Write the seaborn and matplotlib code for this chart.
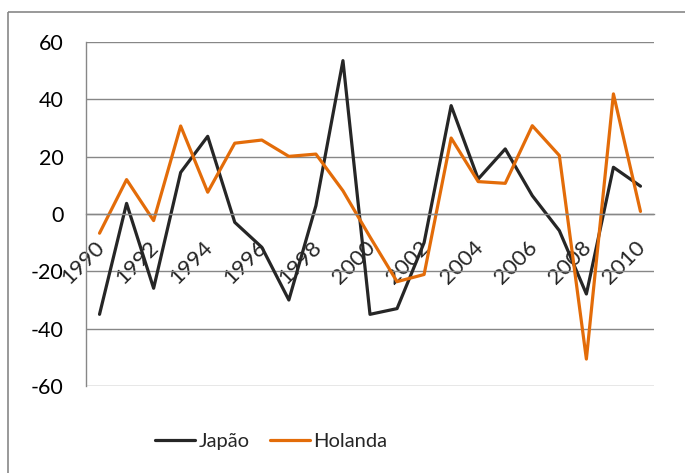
import matplotlib
matplotlib.use("Agg")
import matplotlib.pyplot as plt
import matplotlib.transforms as mtransforms
from matplotlib.patches import Rectangle
import numpy as np
import pandas as pd
import seaborn as sns

# Annual growth rates (%) by year
years = list(range(1990, 2011))
japao = [-35, 3.7, -25.9, 14.5, 27.1, -2.9, -11.6, -30, 2.9, 53.5,
         -35, -33, -10, 37.8, 12.2, 22.7, 6.4, -5.8, -27.9, 16.3, 9.7]
holanda = [-6.7, 12.0, -2.3, 30.7, 7.6, 24.7, 25.8, 20.1, 20.9, 8.1,
           -8, -23.6, -21.1, 26.5, 11.3, 10.7, 30.8, 20.4, -50.6, 41.9, 0.9]
series_names = ["Japão", "Holanda"]
series_colors = ["#262626", "#E36C09"]
y_ticks = [-60, -40, -20, 0, 20, 40, 60]

sns.set_style("white")
plt.rcParams["font.family"] = ["Lato", "DejaVu Sans"]
plt.rcParams["axes.unicode_minus"] = False

W, H = 685, 473
fig = plt.figure(figsize=(W / 100, H / 100), dpi=100)
ax = fig.add_axes([86 / W, 1 - 386 / H, (654 - 86) / W, (386 - 42) / H])

pos = np.arange(len(years))
df = pd.DataFrame({
    "pos": np.concatenate([pos, pos]),
    "valor": japao + holanda,
    "serie": [series_names[0]] * len(years) + [series_names[1]] * len(years),
})

sns.lineplot(data=df, x="pos", y="valor", hue="serie", hue_order=series_names,
             palette=series_colors, linewidth=2.3, sort=False, ax=ax,
             legend=False)

grid_c = "#878787"
fs = 15.5

ax.set_xlim(-0.5, len(years) - 0.5)
ax.set_ylim(-60, 60)
ax.set_yticks(y_ticks)
ax.set_yticklabels([str(v) for v in y_ticks], fontsize=fs, color="black")
ax.yaxis.grid(True, color=grid_c, linewidth=1.0)
ax.set_axisbelow(True)
ax.set_xlabel("")
ax.set_ylabel("")

for s in ["top", "right"]:
    ax.spines[s].set_visible(False)
ax.spines["left"].set_color(grid_c)
ax.spines["left"].set_linewidth(1.0)
ax.spines["bottom"].set_position(("data", 0))
ax.spines["bottom"].set_color(grid_c)
ax.spines["bottom"].set_linewidth(1.0)

ax.tick_params(axis="y", which="major", direction="out", length=6,
               width=1.0, color=grid_c, pad=10)

# category boundaries carry the tick marks, centres carry the labels
ax.set_xticks(np.arange(-0.5, len(years), 1.0))
ax.set_xticklabels([])
ax.tick_params(axis="x", which="major", direction="out", length=5.5,
               width=1.0, color=grid_c)
ax.set_xticks(pos[::2], [str(y) for y in years[::2]], minor=True)
ax.tick_params(axis="x", which="minor", length=0, pad=17, labelsize=16)
shift = mtransforms.ScaledTranslation(-5 / 100, 0, fig.dpi_scale_trans)
for lbl in ax.get_xticklabels(minor=True):
    lbl.set_rotation(45)
    lbl.set_ha("right")
    lbl.set_va("top")
    lbl.set_rotation_mode("anchor")
    lbl.set_transform(lbl.get_transform() + shift)

handles = [plt.Line2D([], [], color=c, linewidth=2.3) for c in series_colors]
fig.legend(handles, series_names, loc="center",
           bbox_to_anchor=(271 / W, 1 - 441 / H), ncol=2, frameon=False,
           fontsize=14.5, handlelength=2.0, handletextpad=0.15,
           columnspacing=1.0)

# chart frame
fig.patches.append(Rectangle((8 / W, 1 - 12 / H), 1.0, -1.2,
                             transform=fig.transFigure, fill=False,
                             edgecolor=grid_c, linewidth=1.2))

fig.savefig("out.png", dpi=100)
